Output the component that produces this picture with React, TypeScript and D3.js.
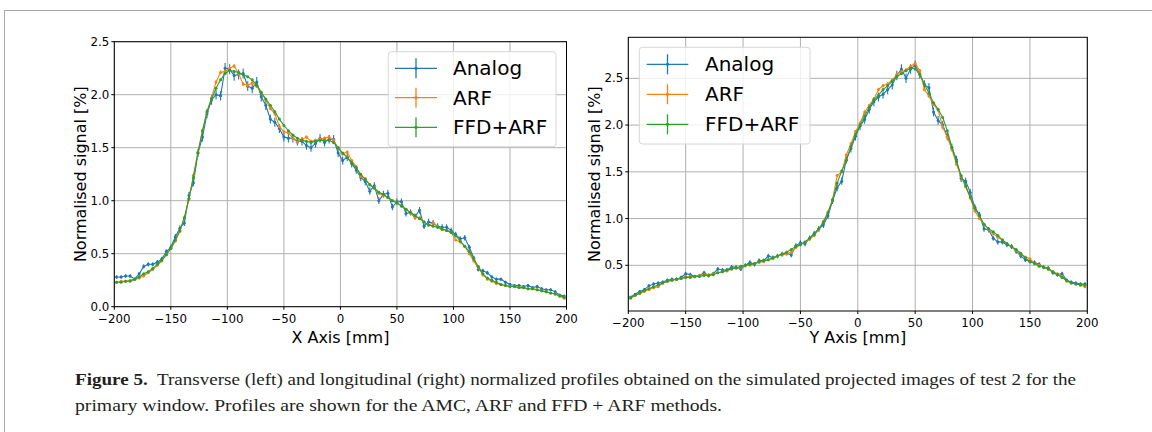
import React from 'react';
import * as d3 from 'd3';

// Bin centres (mm), shared by both profiles
const X_MM = [
  -198, -194, -190, -186, -182, -178, -174, -170, -166, -162,
  -158, -154, -150, -146, -142, -138, -134, -130, -126, -122,
  -118, -114, -110, -106, -102, -98, -94, -90, -86, -82,
  -78, -74, -70, -66, -62, -58, -54, -50, -46, -42,
  -38, -34, -30, -26, -22, -18, -14, -10, -6, -2,
  2, 6, 10, 14, 18, 22, 26, 30, 34, 38,
  42, 46, 50, 54, 58, 62, 66, 70, 74, 78,
  82, 86, 90, 94, 98, 102, 106, 110, 114, 118,
  122, 126, 130, 134, 138, 142, 146, 150, 154, 158,
  162, 166, 170, 174, 178, 182, 186, 190, 194, 198,
];

// Transverse (X axis) profile
const LEFT_ANALOG = [
  0.28, 0.28, 0.29, 0.29, 0.26, 0.31, 0.38, 0.40, 0.40, 0.42,
  0.45, 0.52, 0.56, 0.66, 0.74, 0.79, 1.05, 1.17, 1.45, 1.60,
  1.82, 1.95, 2.00, 1.99, 2.25, 2.24, 2.18, 2.19, 2.20, 2.08,
  2.06, 2.12, 1.98, 1.90, 1.77, 1.74, 1.68, 1.60, 1.59, 1.59,
  1.56, 1.56, 1.52, 1.50, 1.54, 1.59, 1.55, 1.58, 1.58, 1.45,
  1.38, 1.41, 1.35, 1.29, 1.22, 1.18, 1.09, 1.14, 1.00, 1.06,
  1.07, 0.94, 0.99, 0.99, 0.88, 0.89, 0.85, 0.91, 0.76, 0.80,
  0.79, 0.76, 0.75, 0.75, 0.72, 0.68, 0.64, 0.65, 0.56, 0.46,
  0.35, 0.34, 0.32, 0.28, 0.26, 0.26, 0.23, 0.21, 0.20, 0.20,
  0.19, 0.20, 0.18, 0.19, 0.17, 0.16, 0.16, 0.14, 0.11, 0.10,
];
const LEFT_ARF = [
  0.23, 0.24, 0.24, 0.25, 0.26, 0.27, 0.29, 0.32, 0.35, 0.39,
  0.43, 0.49, 0.55, 0.62, 0.71, 0.84, 1.01, 1.24, 1.46, 1.66,
  1.84, 1.97, 2.12, 2.21, 2.22, 2.25, 2.27, 2.20, 2.10, 2.09,
  2.11, 2.08, 2.02, 1.95, 1.87, 1.82, 1.70, 1.65, 1.64, 1.59,
  1.55, 1.58, 1.60, 1.56, 1.57, 1.58, 1.59, 1.60, 1.57, 1.50,
  1.44, 1.46, 1.38, 1.32, 1.23, 1.21, 1.15, 1.12, 1.07, 1.05,
  1.03, 1.00, 0.98, 0.95, 0.92, 0.88, 0.84, 0.84, 0.80, 0.77,
  0.79, 0.76, 0.73, 0.72, 0.70, 0.63, 0.61, 0.57, 0.50, 0.43,
  0.37, 0.30, 0.26, 0.24, 0.22, 0.21, 0.20, 0.19, 0.19, 0.18,
  0.18, 0.17, 0.17, 0.16, 0.15, 0.14, 0.13, 0.12, 0.10, 0.08,
];
const LEFT_FFD = [
  0.23, 0.23, 0.24, 0.24, 0.26, 0.28, 0.31, 0.33, 0.36, 0.40,
  0.44, 0.49, 0.55, 0.63, 0.72, 0.84, 1.02, 1.22, 1.45, 1.66,
  1.84, 1.96, 2.06, 2.14, 2.20, 2.23, 2.22, 2.21, 2.19, 2.17,
  2.14, 2.09, 2.02, 1.96, 1.90, 1.84, 1.77, 1.71, 1.66, 1.62,
  1.59, 1.57, 1.56, 1.55, 1.56, 1.57, 1.57, 1.57, 1.55, 1.50,
  1.45, 1.41, 1.36, 1.31, 1.25, 1.20, 1.15, 1.12, 1.08, 1.06,
  1.03, 1.00, 0.98, 0.95, 0.92, 0.89, 0.86, 0.83, 0.80, 0.77,
  0.76, 0.75, 0.73, 0.72, 0.70, 0.67, 0.62, 0.57, 0.52, 0.45,
  0.38, 0.31, 0.27, 0.25, 0.23, 0.21, 0.20, 0.19, 0.19, 0.18,
  0.18, 0.17, 0.17, 0.16, 0.15, 0.14, 0.13, 0.12, 0.10, 0.09,
];

// Longitudinal (Y axis) profile
const RIGHT_ANALOG = [
  0.16, 0.19, 0.22, 0.24, 0.28, 0.30, 0.31, 0.32, 0.34, 0.35,
  0.35, 0.37, 0.41, 0.40, 0.38, 0.39, 0.42, 0.39, 0.41, 0.46,
  0.45, 0.45, 0.48, 0.48, 0.46, 0.50, 0.53, 0.51, 0.55, 0.55,
  0.60, 0.58, 0.60, 0.62, 0.63, 0.61, 0.71, 0.74, 0.73, 0.79,
  0.84, 0.89, 0.93, 1.03, 1.19, 1.33, 1.40, 1.63, 1.75, 1.88,
  1.99, 2.06, 2.17, 2.25, 2.30, 2.33, 2.38, 2.43, 2.53, 2.60,
  2.50, 2.60, 2.64, 2.55, 2.43, 2.40, 2.14, 2.05, 2.00, 1.88,
  1.76, 1.63, 1.43, 1.40, 1.28, 1.12, 1.04, 0.89, 0.88, 0.79,
  0.75, 0.75, 0.72, 0.70, 0.65, 0.60, 0.56, 0.54, 0.53, 0.51,
  0.48, 0.47, 0.42, 0.40, 0.41, 0.34, 0.32, 0.31, 0.30, 0.30,
];
const RIGHT_ARF = [
  0.15, 0.18, 0.20, 0.22, 0.24, 0.26, 0.27, 0.31, 0.33, 0.34,
  0.35, 0.36, 0.38, 0.38, 0.38, 0.39, 0.40, 0.40, 0.41, 0.42,
  0.43, 0.44, 0.46, 0.47, 0.48, 0.50, 0.50, 0.52, 0.53, 0.54,
  0.56, 0.57, 0.60, 0.61, 0.62, 0.64, 0.69, 0.72, 0.75, 0.78,
  0.82, 0.88, 0.97, 1.07, 1.20, 1.46, 1.50, 1.68, 1.80, 1.93,
  2.02, 2.14, 2.21, 2.28, 2.38, 2.42, 2.44, 2.48, 2.54, 2.57,
  2.59, 2.63, 2.66, 2.58, 2.38, 2.31, 2.22, 2.16, 1.98, 1.87,
  1.74, 1.58, 1.45, 1.34, 1.22, 1.08, 1.00, 0.94, 0.88, 0.84,
  0.80, 0.77, 0.73, 0.70, 0.66, 0.62, 0.59, 0.57, 0.52, 0.50,
  0.48, 0.46, 0.43, 0.41, 0.38, 0.33, 0.31, 0.30, 0.29, 0.27,
];
const RIGHT_FFD = [
  0.15, 0.18, 0.20, 0.23, 0.25, 0.27, 0.29, 0.31, 0.33, 0.34,
  0.35, 0.36, 0.37, 0.37, 0.38, 0.38, 0.39, 0.39, 0.40, 0.42,
  0.43, 0.45, 0.46, 0.47, 0.49, 0.50, 0.51, 0.52, 0.54, 0.55,
  0.56, 0.58, 0.60, 0.62, 0.64, 0.67, 0.70, 0.72, 0.75, 0.79,
  0.83, 0.89, 0.96, 1.06, 1.20, 1.38, 1.51, 1.62, 1.77, 1.90,
  2.00, 2.10, 2.19, 2.27, 2.32, 2.38, 2.42, 2.47, 2.52, 2.55,
  2.58, 2.61, 2.60, 2.54, 2.44, 2.34, 2.24, 2.17, 2.08, 1.94,
  1.76, 1.61, 1.46, 1.35, 1.23, 1.11, 1.03, 0.94, 0.89, 0.86,
  0.82, 0.77, 0.73, 0.70, 0.67, 0.63, 0.58, 0.54, 0.52, 0.49,
  0.48, 0.46, 0.43, 0.40, 0.37, 0.34, 0.31, 0.30, 0.29, 0.29,
];

const SERIES_NAMES = ['Analog', 'ARF', 'FFD+ARF'];
const SERIES_COLORS = ['#1f77b4', '#ff7f0e', '#2ca02c'];
// statistical uncertainty scale per method (error ~ k * sqrt(signal))
const SERIES_ERR_K = [0.032, 0.012, 0.006];

const X_TICKS = [-200, -150, -100, -50, 0, 50, 100, 150, 200];
const LEFT_Y_TICKS = [0, 0.5, 1.0, 1.5, 2.0, 2.5];
const RIGHT_Y_TICKS = [0.5, 1.0, 1.5, 2.0, 2.5];

const CAPTION_BOLD = 'Figure 5.';
const CAPTION_L1 = '  Transverse (left) and longitudinal (right) normalized profiles obtained on the simulated projected images of test 2 for the';
const CAPTION_L2 = 'primary window. Profiles are shown for the AMC, ARF and FFD + ARF methods.';

const FONT = '"DejaVu Sans", sans-serif';

type PanelProps = {
  id: string;
  left: number; right: number; top: number; bottom: number;
  yDomain: [number, number];
  yTicks: number[];
  series: number[][];
  xLabel: string;
  yLabelX: number;
  legend: { x0: number; y0: number; x1: number; y1: number; hx0: number; hx1: number; tx: number; rows: number[] };
};

const fmtX = (v: number) => (v < 0 ? '\u2212' + Math.abs(v) : String(v));

function Panel(p: PanelProps) {
  const x = d3.scaleLinear().domain([-200, 200]).range([p.left, p.right]);
  const y = d3.scaleLinear().domain(p.yDomain).range([p.bottom, p.top]);
  const line = d3.line<number>().x((_, i) => x(X_MM[i])).y((d) => y(d));
  const fmtY = d3.format('.1f');
  const tickLen = 3;
  return (
    <g>
      <defs>
        <clipPath id={p.id}>
          <rect x={p.left} y={p.top} width={p.right - p.left} height={p.bottom - p.top} />
        </clipPath>
      </defs>
      {/* grid */}
      {X_TICKS.map((t) => (
        <line key={'gx' + t} x1={x(t)} x2={x(t)} y1={p.top} y2={p.bottom} stroke="#b0b0b0" strokeWidth={1} />
      ))}
      {p.yTicks.map((t) => (
        <line key={'gy' + t} x1={p.left} x2={p.right} y1={y(t)} y2={y(t)} stroke="#b0b0b0" strokeWidth={1} />
      ))}
      {/* data */}
      <g clipPath={`url(#${p.id})`}>
        {p.series.map((vals, si) => (
          <g key={si}>
            <path d={line(vals) || ''} fill="none" stroke={SERIES_COLORS[si]} strokeWidth={1.1} />
            {vals.map((v, i) => {
              const e = SERIES_ERR_K[si] * Math.sqrt(v);
              return (
                <line key={'e' + i} x1={x(X_MM[i])} x2={x(X_MM[i])} y1={y(v - e)} y2={y(v + e)}
                  stroke={SERIES_COLORS[si]} strokeWidth={1.1} />
              );
            })}
            {vals.map((v, i) => (
              <circle key={'m' + i} cx={x(X_MM[i])} cy={y(v)} r={1.5} fill={SERIES_COLORS[si]} />
            ))}
          </g>
        ))}
      </g>
      {/* spines */}
      <rect x={p.left} y={p.top} width={p.right - p.left} height={p.bottom - p.top} fill="none" stroke="#000" strokeWidth={1} />
      {/* x ticks */}
      {X_TICKS.map((t) => (
        <g key={'tx' + t}>
          <line x1={x(t)} x2={x(t)} y1={p.bottom} y2={p.bottom + tickLen} stroke="#000" strokeWidth={1} />
          <text x={x(t)} y={p.bottom + 12} fontFamily={FONT} fontSize={11.8} textAnchor="middle" dominantBaseline="central" fill="#000">
            {fmtX(t)}
          </text>
        </g>
      ))}
      {/* y ticks */}
      {p.yTicks.map((t) => (
        <g key={'ty' + t}>
          <line x1={p.left - tickLen} x2={p.left} y1={y(t)} y2={y(t)} stroke="#000" strokeWidth={1} />
          <text x={p.left - tickLen - 2} y={y(t)} fontFamily={FONT} fontSize={11.8} textAnchor="end" dominantBaseline="central" fill="#000">
            {fmtY(t)}
          </text>
        </g>
      ))}
      {/* labels */}
      <text x={(p.left + p.right) / 2} y={337} fontFamily={FONT} fontSize={16} textAnchor="middle" dominantBaseline="central" fill="#000">
        {p.xLabel}
      </text>
      <text transform={`translate(${p.yLabelX},${(p.top + p.bottom) / 2}) rotate(-90)`} fontFamily={FONT} fontSize={16}
        textAnchor="middle" dominantBaseline="central" fill="#000">
        Normalised signal [%]
      </text>
      {/* legend */}
      <rect x={p.legend.x0} y={p.legend.y0} width={p.legend.x1 - p.legend.x0} height={p.legend.y1 - p.legend.y0}
        rx={3} fill="#fff" fillOpacity={0.8} stroke="#d6d6d6" strokeWidth={1} />
      {SERIES_NAMES.map((name, si) => {
        const ry = p.legend.rows[si];
        const cx = (p.legend.hx0 + p.legend.hx1) / 2;
        return (
          <g key={name}>
            <line x1={p.legend.hx0} x2={p.legend.hx1} y1={ry} y2={ry} stroke={SERIES_COLORS[si]} strokeWidth={1.3} />
            <line x1={cx} x2={cx} y1={ry - 10} y2={ry + 10} stroke={SERIES_COLORS[si]} strokeWidth={1.3} />
            <circle cx={cx} cy={ry} r={1.6} fill={SERIES_COLORS[si]} />
            <text x={p.legend.tx} y={ry} fontFamily={FONT} fontSize={20} dominantBaseline="central" fill="#000">
              {name}
            </text>
          </g>
        );
      })}
    </g>
  );
}

export default function App() {
  return (
    <svg width={1152} height={432} style={{ position: 'absolute', left: 0, top: 0, background: '#fff' }}>
      <rect x={0} y={0} width={1152} height={432} fill="#fff" />
      {/* figure frame */}
      <line x1={4} x2={1152} y1={10.5} y2={10.5} stroke="#a8a8a8" strokeWidth={1} />
      <line x1={4.5} x2={4.5} y1={10} y2={432} stroke="#a8a8a8" strokeWidth={1} />

      <Panel
        id="clipL"
        left={114.3} right={566.5} top={41.7} bottom={306.7}
        yDomain={[0, 2.5]}
        yTicks={LEFT_Y_TICKS}
        series={[LEFT_ANALOG, LEFT_ARF, LEFT_FFD]}
        xLabel="X Axis [mm]"
        yLabelX={80}
        legend={{ x0: 388.3, y0: 51.7, x1: 556, y1: 146.7, hx0: 395, hx1: 437, tx: 453, rows: [68.3, 97.7, 127.3] }}
      />
      <Panel
        id="clipR"
        left={628.3} right={1087.3} top={37.3} bottom={311}
        yDomain={[0.011, 2.939]}
        yTicks={RIGHT_Y_TICKS}
        series={[RIGHT_ANALOG, RIGHT_ARF, RIGHT_FFD]}
        xLabel="Y Axis [mm]"
        yLabelX={594}
        legend={{ x0: 639.3, y0: 47.3, x1: 810, y1: 144, hx0: 646.7, hx1: 688.3, tx: 705, rows: [64.3, 94.3, 124.3] }}
      />

      {/* caption */}
      <text x={75} y={385} fontFamily='"Liberation Serif", serif' fontSize={16.5} fill="#231f20"
        textLength={1001} lengthAdjust="spacingAndGlyphs" style={{ whiteSpace: 'pre' }}>
        <tspan fontWeight="bold">{CAPTION_BOLD}</tspan>
        <tspan>{CAPTION_L1}</tspan>
      </text>
      <text x={75} y={411} fontFamily='"Liberation Serif", serif' fontSize={16.5} fill="#231f20"
        textLength={647} lengthAdjust="spacingAndGlyphs">
        {CAPTION_L2}
      </text>
    </svg>
  );
}
